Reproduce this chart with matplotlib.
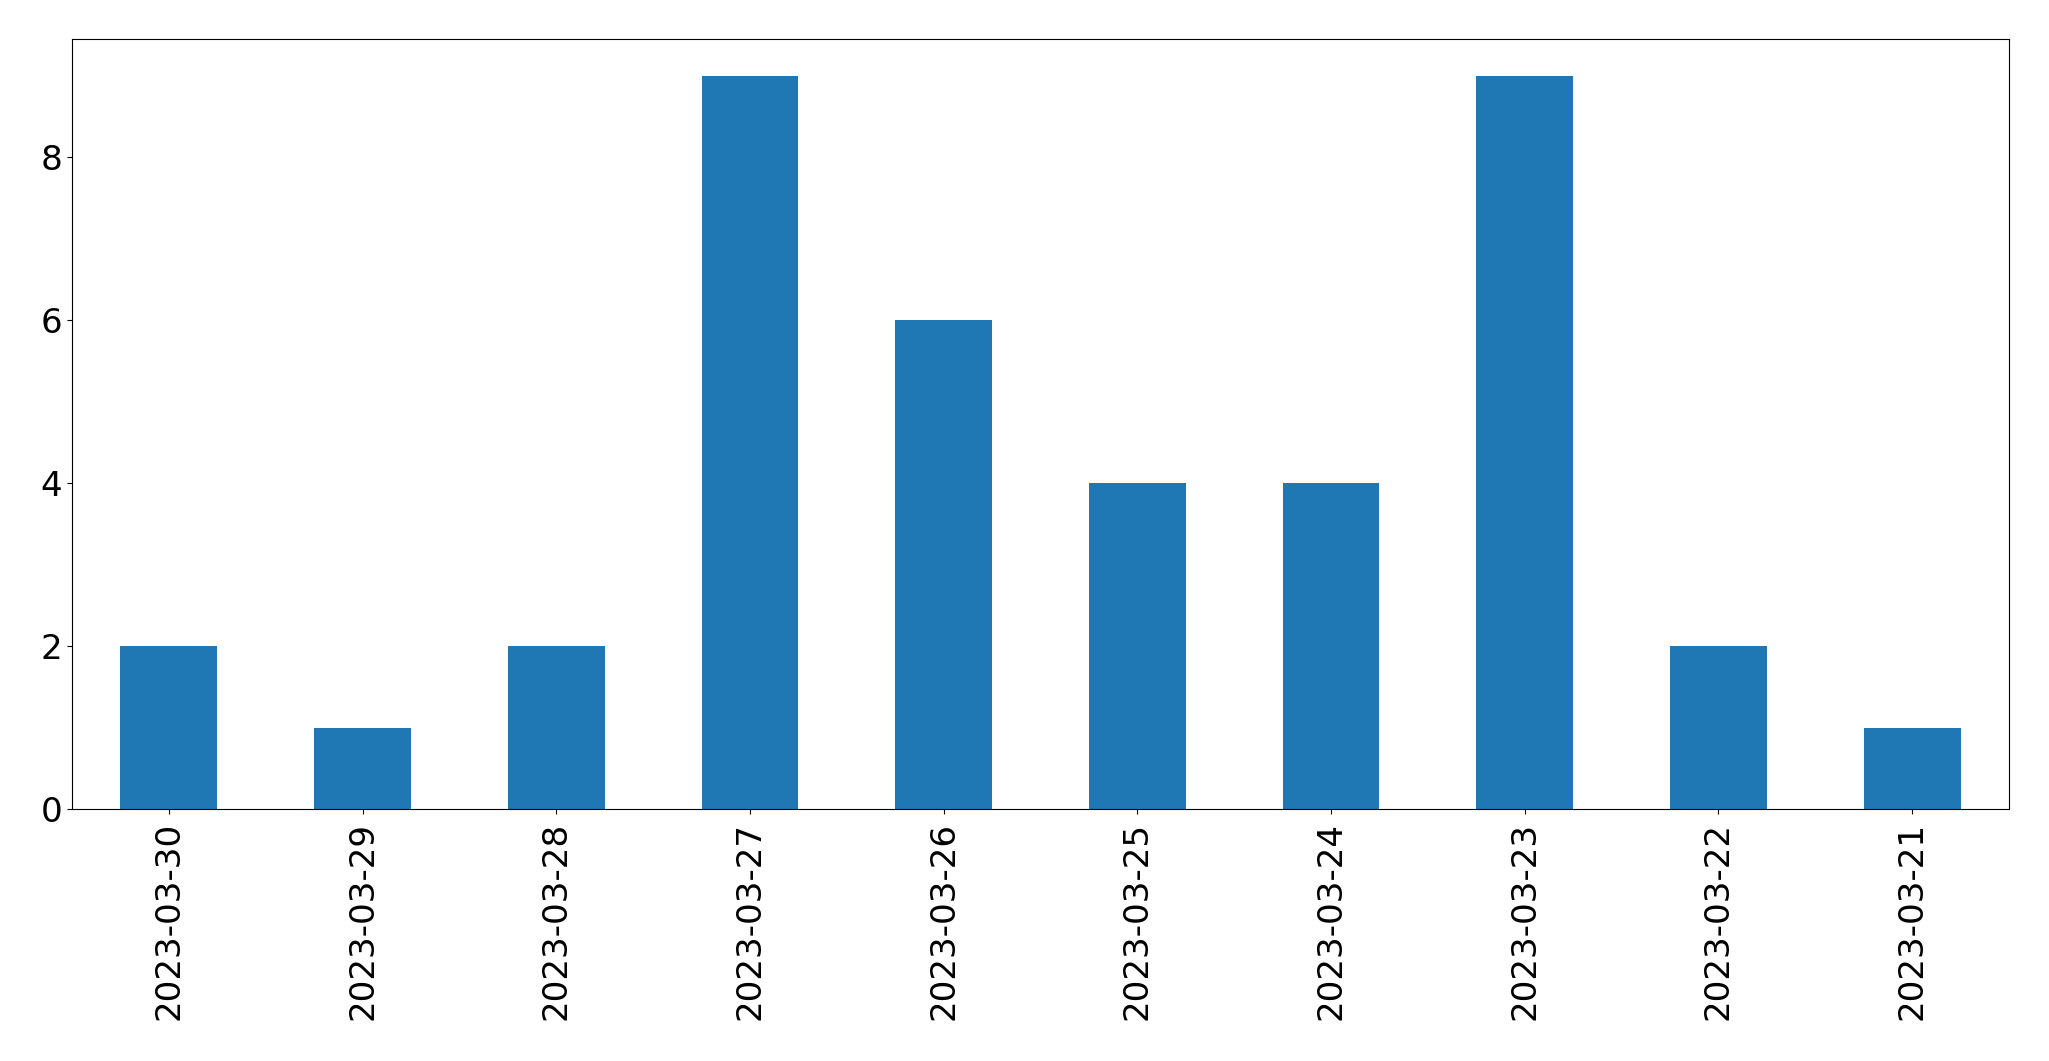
import matplotlib
matplotlib.use("Agg")
import matplotlib.pyplot as plt

dates = ["2023-03-30", "2023-03-29", "2023-03-28", "2023-03-27", "2023-03-26",
         "2023-03-25", "2023-03-24", "2023-03-23", "2023-03-22", "2023-03-21"]
counts = [2, 1, 2, 9, 6, 4, 4, 9, 2, 1]

fig, ax = plt.subplots(figsize=(20.49, 10.61), dpi=100)
fig.subplots_adjust(left=72/2049, right=2009/2049, top=1-39/1061, bottom=1-809/1061)

pos = list(range(len(dates)))
ax.bar(pos, counts, width=0.5, color="#1f77b4")
ax.set_xlim(-0.5, len(dates) - 0.5)
ax.set_ylim(0, max(counts) * 1.05)
ax.set_xticks(pos)
ax.set_xticklabels(dates, rotation=90)
ax.set_yticks([0, 2, 4, 6, 8])
ax.tick_params(labelsize=24.6)
ax.tick_params(axis="x", pad=6)

fig.savefig("out.png")
